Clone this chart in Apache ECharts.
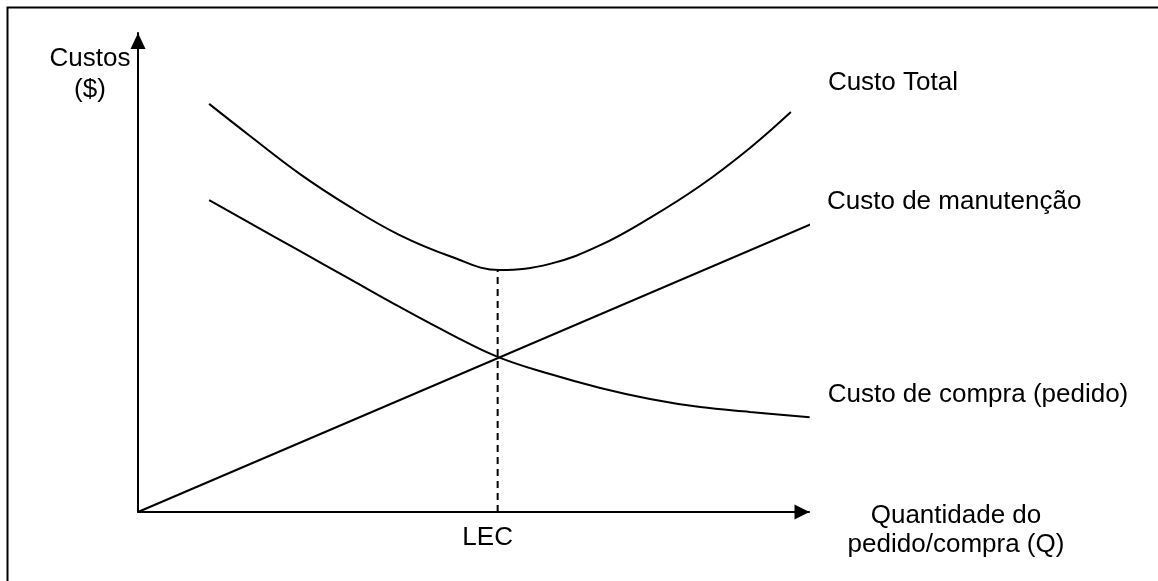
<!DOCTYPE html>
<html>
<head>
<meta charset="utf-8">
<script src="https://cdn.jsdelivr.net/npm/echarts@6/dist/echarts.min.js"></script>
<style>
  html, body { margin: 0; padding: 0; background: #fff; }
  #main { width: 1158px; height: 581px; }
</style>
</head>
<body>
<div id="main"></div>
<script>
// quantidade (Q) e custos (unidades 0..100)
var qTotal = [10.6, 16.7, 24.1, 31.6, 39.0, 46.5, 53.9, 61.4, 68.9, 76.3, 83.8, 91.2, 97.3];
var custoTotal = [85.2, 78.5, 70.6, 63.7, 57.8, 53.4, 50.5, 51.8, 55.7, 61.4, 68.1, 76.0, 83.5];

var qCompra = [10.6, 16.7, 24.1, 31.6, 39.0, 46.5, 53.6, 61.4, 68.9, 76.3, 83.8, 91.2, 100.1];
var custoCompra = [65.1, 60.3, 54.5, 48.6, 42.8, 37.2, 32.4, 28.8, 25.9, 23.6, 21.9, 20.9, 19.8];

var qManut = [0, 100.3];
var custoManut = [0, 60.1];

var lecQ = 53.6;
var lecCusto = [0, 50.4];

var fonte = "'Liberation Sans', Arial, sans-serif";

function pares(xs, ys) {
    var out = [];
    for (var i = 0; i < xs.length; i++) out.push([xs[i], ys[i]]);
    return out;
}

var myChart = echarts.init(document.getElementById('main'));

var option = {
    animation: false,
    backgroundColor: '#fff',
    textStyle: { fontFamily: fonte, color: '#000' },
    grid: { left: 138, right: 349, top: 33, bottom: 69 },
    xAxis: {
        type: 'value', min: 0, max: 100,
        axisLine: {
            onZero: false,
            lineStyle: { color: '#000', width: 2 },
            symbol: ['none', 'triangle'], symbolSize: [15, 15], symbolOffset: [0, -7]
        },
        axisTick: { show: false }, axisLabel: { show: false }, splitLine: { show: false }
    },
    yAxis: {
        type: 'value', min: 0, max: 100,
        axisLine: {
            show: true, onZero: false,
            lineStyle: { color: '#000', width: 2 },
            symbol: ['none', 'triangle'], symbolSize: [15, 16], symbolOffset: [0, -8]
        },
        axisTick: { show: false }, axisLabel: { show: false }, splitLine: { show: false }
    },
    graphic: [
        {
            id: 'moldura', type: 'rect', silent: true, z: -1,
            shape: { x: 7.5, y: 7.5, width: 1300, height: 700 },
            style: { fill: 'none', stroke: '#000', lineWidth: 2 }
        },
        {
            id: 'eixoY', type: 'text', x: 90, y: 43,
            style: { text: 'Custos\n($)', font: '26px ' + fonte, fill: '#000',
                     textAlign: 'center', textVerticalAlign: 'top', lineHeight: 31 }
        },
        {
            id: 'eixoX', type: 'text', x: 956, y: 501,
            style: { text: 'Quantidade do\npedido/compra (Q)', font: '26px ' + fonte, fill: '#000',
                     textAlign: 'center', textVerticalAlign: 'top', lineHeight: 29 }
        }
    ],
    series: [
        {
            name: 'Custo Total', type: 'line', smooth: 0.4, symbol: 'none', clip: false,
            lineStyle: { color: '#000', width: 2 },
            data: pares(qTotal, custoTotal),
            endLabel: { show: true, formatter: 'Custo Total', distance: 0, offset: [37, -29],
                        fontSize: 26, fontFamily: fonte, color: '#000' }
        },
        {
            name: 'Custo de manutenção', type: 'line', symbol: 'none', clip: false,
            lineStyle: { color: '#000', width: 2 },
            data: pares(qManut, custoManut),
            endLabel: { show: true, formatter: 'Custo de manutenção', distance: 0, offset: [17, -23],
                        fontSize: 26, fontFamily: fonte, color: '#000' }
        },
        {
            name: 'Custo de compra (pedido)', type: 'line', smooth: 0.4, symbol: 'none', clip: false,
            lineStyle: { color: '#000', width: 2 },
            data: pares(qCompra, custoCompra),
            endLabel: { show: true, formatter: 'Custo de compra (pedido)', distance: 0, offset: [18, -22],
                        fontSize: 26, fontFamily: fonte, color: '#000' }
        },
        {
            name: 'LEC', type: 'line', symbol: 'none', clip: false,
            lineStyle: { color: '#000', width: 2, type: [7, 5] },
            data: pares([lecQ, lecQ], lecCusto)
        }
    ]
};

myChart.setOption(option);

// rotulo LEC sob a linha tracejada, posicionado pela escala do eixo
var pLec = myChart.convertToPixel({ xAxisIndex: 0, yAxisIndex: 0 }, [lecQ, 0]);
myChart.setOption({
    graphic: [{
        id: 'lec', type: 'text', x: pLec[0] - 10, y: pLec[1] + 26,
        style: { text: 'LEC', font: '26px ' + fonte, fill: '#000',
                 textAlign: 'center', textVerticalAlign: 'middle' }
    }]
});
</script>
</body>
</html>
